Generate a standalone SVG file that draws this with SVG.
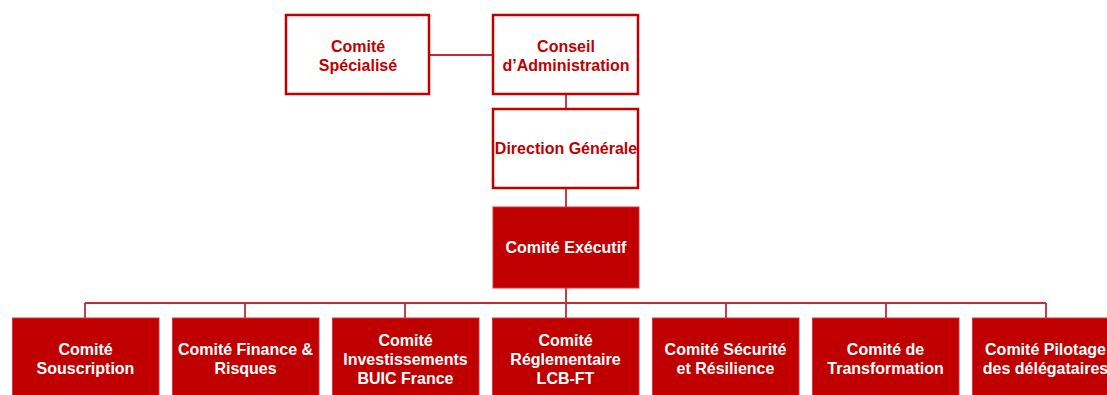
<svg xmlns="http://www.w3.org/2000/svg" width="1107" height="395" viewBox="0 0 1107 395">
<style>
.ob{fill:#ffffff;stroke:#c00000;stroke-width:2.5}
.fb{fill:#c00000;stroke:#c8383f;stroke-width:1}
.rt{font-family:"Liberation Sans",Arial,sans-serif;font-size:16px;font-weight:bold;fill:#c00000;text-anchor:middle}
.wt{font-family:"Liberation Sans",Arial,sans-serif;font-size:16px;font-weight:bold;fill:#ffffff;text-anchor:middle}
.cn{stroke:#c42a33;stroke-width:1.8;fill:none}
</style>
<rect width="1107" height="395" fill="#ffffff"/>
<g id="connectors">
<line class="cn" x1="430" y1="55" x2="493" y2="55"/>
<line class="cn" x1="566" y1="94" x2="566" y2="109"/>
<line class="cn" x1="566" y1="188" x2="566" y2="207"/>
<line class="cn" x1="566" y1="288" x2="566" y2="318"/>
<line class="cn" x1="85" y1="303" x2="1046" y2="303"/>
<line class="cn" x1="85" y1="303" x2="85" y2="318"/>
<line class="cn" x1="245" y1="303" x2="245" y2="318"/>
<line class="cn" x1="405" y1="303" x2="405" y2="318"/>
<line class="cn" x1="726" y1="303" x2="726" y2="318"/>
<line class="cn" x1="886" y1="303" x2="886" y2="318"/>
<line class="cn" x1="1046" y1="303" x2="1046" y2="318"/>
</g>
<g id="comite-specialise">
<rect class="ob" x="286" y="15" width="143" height="79"/>
<text class="rt" x="358" y="52">Comité</text>
<text class="rt" x="358" y="70.5">Spécialisé</text>
</g>
<g id="conseil-administration">
<rect class="ob" x="493" y="15" width="145" height="79"/>
<text class="rt" x="566" y="52">Conseil</text>
<text class="rt" x="566" y="70.5">d’Administration</text>
</g>
<g id="direction-generale">
<rect class="ob" x="493" y="109" width="145" height="79"/>
<text class="rt" x="566" y="154">Direction Générale</text>
</g>
<g id="comite-executif">
<rect class="fb" x="493" y="207" width="146" height="81"/>
<text class="wt" x="566" y="253">Comité Exécutif</text>
</g>
<g id="comite-souscription">
<rect class="fb" x="12.5" y="318" width="146.5" height="90"/>
<text class="wt" x="85.5" y="355">Comité</text>
<text class="wt" x="85.5" y="373.5">Souscription</text>
</g>
<g id="comite-finance-risques">
<rect class="fb" x="172.5" y="318" width="146.5" height="90"/>
<text class="wt" x="245.5" y="355">Comité Finance &amp;</text>
<text class="wt" x="245.5" y="373.5">Risques</text>
</g>
<g id="comite-investissements">
<rect class="fb" x="332.5" y="318" width="146.5" height="90"/>
<text class="wt" x="405.5" y="345.5">Comité</text>
<text class="wt" x="405.5" y="364.5">Investissements</text>
<text class="wt" x="405.5" y="383.5">BUIC France</text>
</g>
<g id="comite-reglementaire">
<rect class="fb" x="492.5" y="318" width="146.5" height="90"/>
<text class="wt" x="565.5" y="345.5">Comité</text>
<text class="wt" x="565.5" y="364.5">Réglementaire</text>
<text class="wt" x="565.5" y="383.5">LCB-FT</text>
</g>
<g id="comite-securite">
<rect class="fb" x="652.5" y="318" width="146.5" height="90"/>
<text class="wt" x="725.5" y="355">Comité Sécurité</text>
<text class="wt" x="725.5" y="373.5">et Résilience</text>
</g>
<g id="comite-transformation">
<rect class="fb" x="812.5" y="318" width="146.5" height="90"/>
<text class="wt" x="885.5" y="355">Comité de</text>
<text class="wt" x="885.5" y="373.5">Transformation</text>
</g>
<g id="comite-pilotage">
<rect class="fb" x="972.5" y="318" width="146.5" height="90"/>
<text class="wt" x="1045.5" y="355">Comité Pilotage</text>
<text class="wt" x="1045.5" y="373.5">des délégataires</text>
</g>
</svg>
